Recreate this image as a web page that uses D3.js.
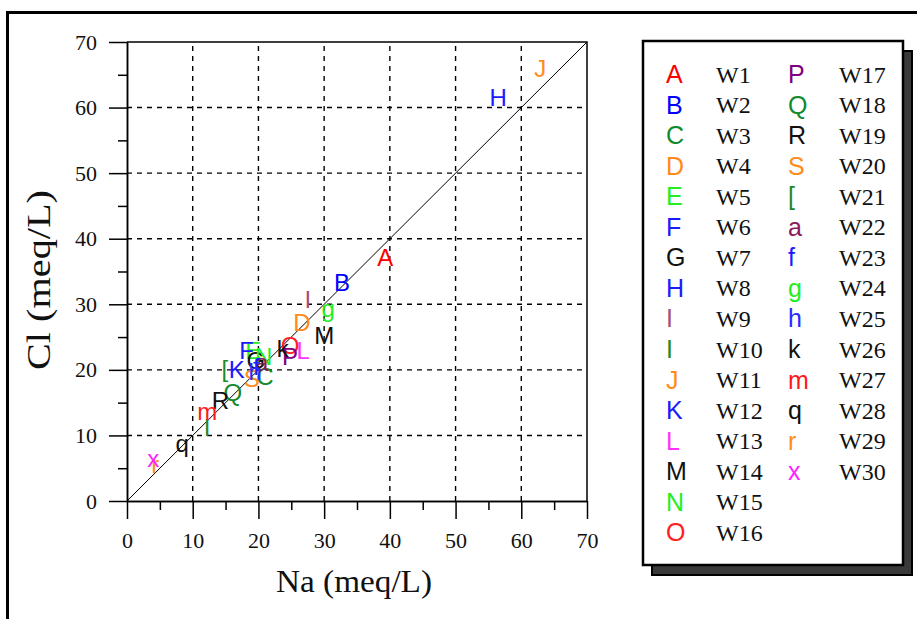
<!DOCTYPE html>
<html>
<head>
<meta charset="utf-8">
<script src="https://cdn.jsdelivr.net/npm/d3@7"></script>
<style>
  body { margin: 0; background: #fff; }
</style>
</head>
<body>
<div id="chart"></div>
<script>
// well codes as plotted, their labels and colours
const codes = ['A', 'B', 'C', 'D', 'E', 'F', 'G', 'H', 'I', 'I', 'J', 'K', 'L', 'M', 'N',
    'O', 'P', 'Q', 'R', 'S', '[', 'a', 'f', 'g', 'h', 'k', 'm', 'q', 'r', 'x'];
const wells = ['W1', 'W2', 'W3', 'W4', 'W5', 'W6', 'W7', 'W8', 'W9', 'W10', 'W11', 'W12', 'W13', 'W14', 'W15',
    'W16', 'W17', 'W18', 'W19', 'W20', 'W21', 'W22', 'W23', 'W24', 'W25', 'W26', 'W27', 'W28', 'W29', 'W30'];
const colors = ['#ff0000', '#0000ff', '#118a2e', '#ff8a1a', '#22ee22', '#1a1aff', '#111111', '#1a1aff', '#a05080', '#1e8a2a',
    '#ff8c1a', '#1a1aff', '#ff33ff', '#111111', '#22ee22', '#ff2020', '#800080', '#118a2e', '#111111', '#ff8c1a',
    '#1e8a2a', '#8b1a5a', '#1a1aff', '#22ee22', '#2a2aff', '#111111', '#ff1a1a', '#111111', '#ff8c1a', '#ff22ff'];

// Na and Cl in meq/L
const naValues = [39.3, 32.7, 21.0, 26.6, 19.2, 18.2, 19.6, 56.5, 27.5, 12.2, 62.9, 16.7, 26.8, 30.0, 20.8,
    24.8, 24.8, 16.1, 14.2, 19.0, 14.9, 20.5, 19.7, 30.6, 19.5, 23.7, 12.2, 8.4, 4.3, 4.0];
const clValues = [37.2, 33.4, 19.0, 27.3, 23.0, 23.0, 21.5, 61.6, 30.7, 11.3, 66.0, 20.0, 23.0, 25.3, 22.0,
    23.8, 22.0, 16.5, 15.4, 18.7, 20.3, 21.2, 20.5, 29.4, 19.8, 23.3, 13.6, 8.8, 5.6, 6.5];

const majorTicks = [0, 10, 20, 30, 40, 50, 60, 70];
const minorTicks = [5, 15, 25, 35, 45, 55, 65];

const serif = '"Liberation Serif", "Times New Roman", serif',
    sans = '"Liberation Sans", Arial, sans-serif';

const width = 917, height = 619;
const plot = { left: 127, top: 42, right: 587, bottom: 501 };

const svg = d3.select('#chart')
    .append('svg')
    .attr('width', width)
    .attr('height', height)
    .style('display', 'block');

// outer frame (runs off the right and bottom edges)
svg.append('path')
    .attr('d', 'M7.5,' + (height + 5) + ' V12.5 H' + (width + 5))
    .attr('fill', 'none')
    .attr('stroke', '#000')
    .attr('stroke-width', 3);

const x = d3.scaleLinear().domain([0, 70]).range([plot.left, plot.right]);
const y = d3.scaleLinear().domain([0, 70]).range([plot.bottom, plot.top]);

// dashed grid
const grid = svg.append('g')
    .attr('stroke', '#000')
    .attr('stroke-width', 1.4)
    .attr('stroke-dasharray', '5,5');

grid.selectAll('.gx')
    .data(majorTicks.slice(1, -1))
    .enter()
    .append('line')
    .attr('x1', d => x(d)).attr('x2', d => x(d))
    .attr('y1', plot.bottom).attr('y2', plot.top);

grid.selectAll('.gy')
    .data(majorTicks.slice(1, -1))
    .enter()
    .append('line')
    .attr('y1', d => y(d)).attr('y2', d => y(d))
    .attr('x1', plot.left).attr('x2', plot.right);

// top and right frame of the plot
svg.append('path')
    .attr('d', 'M' + plot.left + ',' + plot.top + ' H' + plot.right + ' V' + plot.bottom)
    .attr('fill', 'none')
    .attr('stroke', '#000')
    .attr('stroke-width', 1.5);

// 1:1 line
svg.append('line')
    .attr('x1', x(0)).attr('y1', y(0))
    .attr('x2', x(70)).attr('y2', y(70))
    .attr('stroke', '#000')
    .attr('stroke-width', 1);

function styleAxis(g) {
    g.select('.domain').attr('stroke-width', 1.5);
    g.selectAll('.tick line').attr('stroke-width', 1.5);
    g.selectAll('text')
        .style('font-family', serif)
        .style('font-size', '22px')
        .attr('fill', '#111');
}

// x axis
svg.append('g')
    .attr('transform', 'translate(0,' + plot.bottom + ')')
    .call(d3.axisBottom(x).tickValues(minorTicks).tickSize(9).tickFormat('').tickSizeOuter(0))
    .call(styleAxis);

svg.append('g')
    .attr('transform', 'translate(0,' + plot.bottom + ')')
    .call(d3.axisBottom(x).tickValues(majorTicks).tickSize(18).tickPadding(13).tickSizeOuter(0))
    .call(styleAxis);

// y axis
svg.append('g')
    .attr('transform', 'translate(' + plot.left + ',0)')
    .call(d3.axisLeft(y).tickValues(minorTicks).tickSize(9).tickFormat('').tickSizeOuter(0))
    .call(styleAxis);

svg.append('g')
    .attr('transform', 'translate(' + plot.left + ',0)')
    .call(d3.axisLeft(y).tickValues(majorTicks).tickSize(18).tickPadding(12).tickSizeOuter(0))
    .call(styleAxis);

// axis titles
svg.append('text')
    .attr('x', 354)
    .attr('y', 592)
    .attr('text-anchor', 'middle')
    .attr('textLength', 156)
    .attr('lengthAdjust', 'spacingAndGlyphs')
    .style('font-family', serif)
    .style('font-size', '32px')
    .attr('fill', '#111')
    .text('Na (meq/L)');

svg.append('text')
    .attr('transform', 'translate(50,280) rotate(-90)')
    .attr('text-anchor', 'middle')
    .attr('textLength', 180)
    .attr('lengthAdjust', 'spacingAndGlyphs')
    .style('font-family', serif)
    .style('font-size', '34px')
    .attr('fill', '#111')
    .text('Cl (meq/L)');

// the letters
const points = codes.map((c, i) => ({ code: c, na: naValues[i], cl: clValues[i], color: colors[i] }));

svg.append('g')
    .selectAll('text')
    .data(points)
    .enter()
    .append('text')
    .attr('x', d => x(d.na))
    .attr('y', d => y(d.cl))
    .attr('dy', '0.36em')
    .attr('text-anchor', 'middle')
    .style('font-family', sans)
    .style('font-size', '24px')
    .attr('fill', d => d.color)
    .text(d => d.code);

// legend with drop shadow
const legend = { x: 643, y: 41, w: 260, h: 524, shadow: 9 };

svg.append('rect')
    .attr('x', legend.x + legend.shadow)
    .attr('y', legend.y + legend.shadow + 1)
    .attr('width', legend.w)
    .attr('height', legend.h)
    .attr('fill', '#3a3a3a')
    .attr('stroke', '#000')
    .attr('stroke-width', 2);

svg.append('rect')
    .attr('x', legend.x)
    .attr('y', legend.y)
    .attr('width', legend.w)
    .attr('height', legend.h)
    .attr('fill', '#fff')
    .attr('stroke', '#000')
    .attr('stroke-width', 2.5);

const rowH = 30.55, perCol = 16;
const items = svg.append('g')
    .selectAll('g')
    .data(points.map((d, i) => ({ ...d, well: wells[i], col: Math.floor(i / perCol), row: i % perCol })))
    .enter()
    .append('g')
    .attr('transform', d => 'translate(' + (d.col === 0 ? 666 : 788) + ',' + (74 + d.row * rowH) + ')');

items.append('text')
    .attr('dy', '0.36em')
    .style('font-family', sans)
    .style('font-size', '25px')
    .attr('fill', d => d.color)
    .text(d => d.code);

items.append('text')
    .attr('x', d => d.col === 0 ? 50 : 51)
    .attr('dy', '0.36em')
    .style('font-family', serif)
    .style('font-size', '24px')
    .attr('fill', '#111')
    .text(d => d.well);
</script>
</body>
</html>
